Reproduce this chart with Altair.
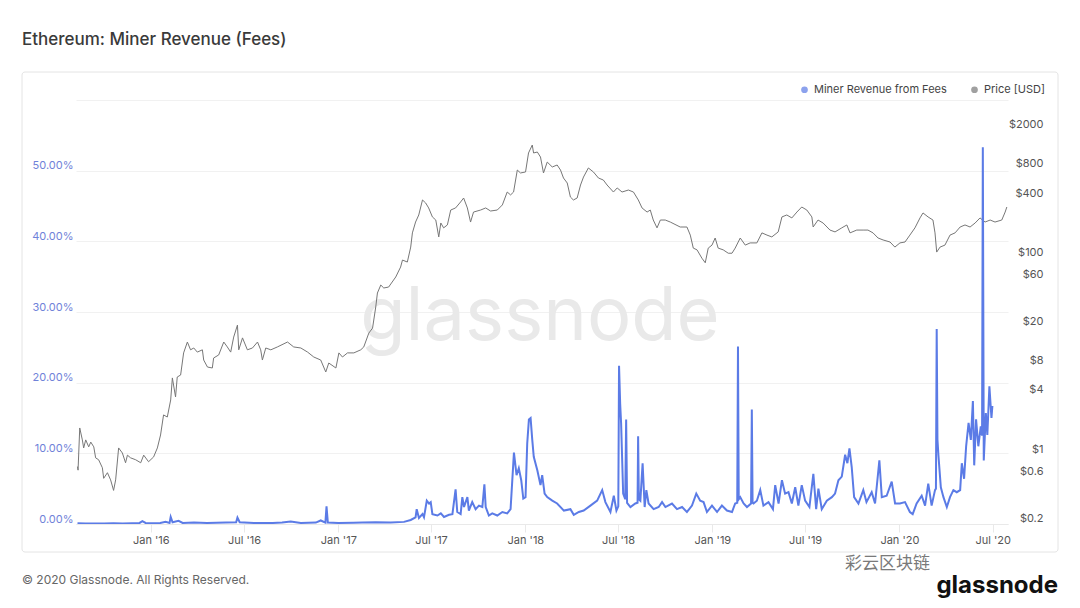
import altair as alt
import pandas as pd

# ---------------- data ----------------
# dates are given as decimal years
price_years = [
    2015.608, 2015.611, 2015.620, 2015.634, 2015.641, 2015.652, 2015.668, 2015.679, 2015.695, 2015.705,
    2015.721, 2015.741, 2015.748, 2015.768, 2015.785, 2015.801, 2015.812, 2015.828, 2015.848, 2015.865,
    2015.875, 2015.892, 2015.919, 2015.946, 2015.962, 2015.988,
    2016.015, 2016.035, 2016.052, 2016.068, 2016.088, 2016.106, 2016.115, 2016.132, 2016.141, 2016.159,
    2016.175, 2016.195, 2016.212, 2016.229, 2016.248, 2016.275, 2016.282, 2016.302, 2016.328, 2016.335,
    2016.362, 2016.389, 2016.408, 2016.426, 2016.442, 2016.462, 2016.469, 2016.489, 2016.515, 2016.542,
    2016.569, 2016.586, 2016.595, 2016.613, 2016.640, 2016.675, 2016.729, 2016.762, 2016.800, 2016.836,
    2016.869, 2016.906, 2016.933, 2016.949, 2016.987,
    2017.003, 2017.022, 2017.049, 2017.083, 2017.120, 2017.136, 2017.163, 2017.183, 2017.200, 2017.209,
    2017.227, 2017.243, 2017.269, 2017.307, 2017.333, 2017.343, 2017.369, 2017.387, 2017.396, 2017.413,
    2017.430, 2017.450, 2017.467, 2017.483, 2017.503, 2017.521, 2017.537, 2017.548, 2017.563, 2017.583,
    2017.601, 2017.627, 2017.654, 2017.670, 2017.690, 2017.707, 2017.723, 2017.761, 2017.788, 2017.814,
    2017.850, 2017.877, 2017.903, 2017.921, 2017.937, 2017.957, 2017.974,
    2018.001, 2018.017, 2018.037, 2018.044, 2018.064, 2018.081, 2018.097, 2018.117, 2018.144, 2018.170,
    2018.188, 2018.204, 2018.224, 2018.241, 2018.257, 2018.277, 2018.295, 2018.311, 2018.337, 2018.364,
    2018.391, 2018.417, 2018.437, 2018.471, 2018.491, 2018.517, 2018.551, 2018.578, 2018.604, 2018.624,
    2018.651, 2018.668, 2018.684, 2018.704, 2018.722, 2018.748, 2018.775, 2018.828, 2018.864, 2018.882,
    2018.898, 2018.918, 2018.944, 2018.962, 2018.978, 2018.998,
    2019.015, 2019.031, 2019.058, 2019.085, 2019.105, 2019.122, 2019.149, 2019.176, 2019.202, 2019.238,
    2019.265, 2019.292, 2019.318, 2019.352, 2019.372, 2019.398, 2019.425, 2019.452, 2019.478, 2019.505,
    2019.532, 2019.539, 2019.565, 2019.592, 2019.629, 2019.656, 2019.692, 2019.719, 2019.736, 2019.772,
    2019.806, 2019.832, 2019.859, 2019.886, 2019.913, 2019.950, 2019.976,
    2020.003, 2020.030, 2020.056, 2020.083, 2020.110, 2020.126, 2020.153, 2020.179, 2020.190, 2020.199,
    2020.217, 2020.243, 2020.270, 2020.297, 2020.324, 2020.350, 2020.377, 2020.404, 2020.430, 2020.457,
    2020.484, 2020.510, 2020.546, 2020.564, 2020.573,
]
price_usd = [
    0.75, 0.69, 1.85, 1.40, 1.16, 1.40, 1.19, 1.33, 1.19, 0.92,
    0.88, 0.73, 0.57, 0.65, 0.55, 0.43, 0.55, 1.16, 1.03, 0.82,
    0.98, 0.92, 0.88, 0.82, 0.98, 0.84,
    0.94, 1.16, 1.57, 2.51, 2.39, 3.56, 5.96, 3.82, 6.09, 6.38,
    10.7, 13.8, 11.5, 12.0, 10.9, 11.5, 9.06, 7.69, 7.52, 9.50,
    10.2, 13.8, 12.3, 10.9, 15.5, 20.5, 11.5, 15.2, 11.5, 12.0,
    13.8, 11.5, 9.06, 12.0, 11.5, 12.3, 13.8, 12.3, 12.0, 10.9,
    9.72, 9.06, 6.85, 8.45, 7.52,
    10.7, 9.72, 10.7, 10.7, 11.5, 12.3, 17.0, 19.1, 31.3, 43.4,
    52.3, 48.8, 49.9, 63.1, 79.6, 93.8, 89.5, 127, 177, 228,
    269, 382, 356, 317, 257, 239, 161, 223, 199, 213,
    302, 317, 365, 400, 317, 228, 288, 302, 317, 295,
    302, 340, 460, 430, 460, 769, 718,
    735, 1146, 1380, 1146, 1172, 1043, 718, 927, 826, 865,
    769, 638, 568, 409, 382, 400, 542, 653, 807, 735,
    638, 609, 542, 460, 506, 460, 482, 460, 382, 317,
    288, 302, 239, 199, 239, 239, 228, 203, 203, 168,
    124, 119, 98, 88, 124, 133,
    157, 124, 119, 110, 110, 124, 157, 133, 140, 140,
    177, 168, 161, 181, 257, 269, 251, 288, 324, 302,
    257, 203, 239, 223, 189, 181, 199, 213, 177, 189,
    189, 189, 177, 157, 150, 143, 127,
    140, 143, 168, 199, 251, 282, 257, 239, 177, 113,
    127, 133, 168, 177, 203, 213, 203, 223, 251, 228,
    239, 228, 239, 288, 324,
]

fee_years = [
    2015.608, 2015.650, 2015.700, 2015.750, 2015.800, 2015.850, 2015.900, 2015.940, 2015.955, 2015.972,
    2016.000, 2016.050, 2016.079, 2016.100, 2016.106, 2016.116, 2016.148, 2016.170, 2016.230, 2016.300,
    2016.400, 2016.455, 2016.462, 2016.474, 2016.550, 2016.650, 2016.700, 2016.746, 2016.800, 2016.880,
    2016.906, 2016.931, 2016.937, 2016.944,
    2017.000, 2017.080, 2017.129, 2017.200, 2017.280, 2017.351, 2017.387, 2017.413, 2017.419, 2017.431,
    2017.450, 2017.458, 2017.473, 2017.485, 2017.494, 2017.503, 2017.530, 2017.548, 2017.565, 2017.592,
    2017.610, 2017.627, 2017.636, 2017.654, 2017.663, 2017.672, 2017.690, 2017.698, 2017.716, 2017.734,
    2017.752, 2017.770, 2017.781, 2017.788, 2017.805, 2017.823, 2017.850, 2017.877, 2017.903, 2017.921,
    2017.939, 2017.953, 2017.965, 2017.978, 2017.989,
    2018.001, 2018.010, 2018.019, 2018.028, 2018.037, 2018.045, 2018.064, 2018.081, 2018.090, 2018.103,
    2018.117, 2018.144, 2018.170, 2018.206, 2018.241, 2018.259, 2018.286, 2018.312, 2018.348, 2018.384,
    2018.411, 2018.428, 2018.455, 2018.473, 2018.487, 2018.497, 2018.501, 2018.507, 2018.512, 2018.523,
    2018.534, 2018.539, 2018.544, 2018.562, 2018.588, 2018.600, 2018.603, 2018.607, 2018.615, 2018.627,
    2018.638, 2018.647, 2018.659, 2018.686, 2018.713, 2018.731, 2018.749, 2018.784, 2018.811, 2018.838,
    2018.864, 2018.891, 2018.914, 2018.935, 2018.953, 2018.971, 2018.998,
    2019.025, 2019.051, 2019.078, 2019.105, 2019.122, 2019.133, 2019.137, 2019.141, 2019.149, 2019.167,
    2019.185, 2019.207, 2019.211, 2019.215, 2019.220, 2019.238, 2019.256, 2019.273, 2019.300, 2019.324,
    2019.336, 2019.354, 2019.372, 2019.389, 2019.407, 2019.425, 2019.443, 2019.460, 2019.478, 2019.496,
    2019.519, 2019.540, 2019.555, 2019.567, 2019.585, 2019.612, 2019.639, 2019.656, 2019.674, 2019.692,
    2019.710, 2019.722, 2019.733, 2019.745, 2019.758, 2019.781, 2019.807, 2019.824, 2019.852, 2019.870,
    2019.893, 2019.906, 2019.932, 2019.959, 2019.977,
    2020.003, 2020.030, 2020.056, 2020.071, 2020.092, 2020.119, 2020.137, 2020.154, 2020.172, 2020.190,
    2020.195, 2020.199, 2020.203, 2020.208, 2020.221, 2020.235, 2020.253, 2020.270, 2020.288, 2020.306,
    2020.324, 2020.333, 2020.345, 2020.356, 2020.369, 2020.381, 2020.392, 2020.399, 2020.409, 2020.421,
    2020.434, 2020.441, 2020.445, 2020.450, 2020.461, 2020.469, 2020.480, 2020.491, 2020.496,
]
fee_pct = [
    0.10, 0.06, 0.08, 0.07, 0.10, 0.08, 0.12, 0.15, 0.40, 0.15,
    0.12, 0.15, 0.30, 0.15, 1.00, 0.25, 0.45, 0.15, 0.20, 0.15,
    0.20, 0.25, 0.90, 0.25, 0.15, 0.15, 0.20, 0.35, 0.15, 0.20,
    0.50, 0.20, 2.50, 0.20,
    0.15, 0.18, 0.20, 0.25, 0.20, 0.30, 0.57, 0.95, 2.10, 0.86,
    1.40, 0.95, 3.30, 2.90, 3.10, 1.40, 1.20, 1.50, 1.00, 1.30,
    1.40, 4.90, 1.70, 1.40, 3.80, 2.40, 3.80, 1.90, 3.10, 2.10,
    2.60, 2.40, 5.60, 2.40, 1.20, 1.50, 1.20, 1.70, 1.50, 2.10,
    10.1, 6.9, 7.9, 6.2, 3.6,
    3.8, 11.4, 14.8, 15.0, 11.9, 9.5, 7.6, 5.5, 6.9, 4.3,
    3.8, 3.3, 2.9, 1.9, 2.1, 1.3, 1.7, 1.9, 2.6, 3.3,
    4.8, 3.1, 1.7, 4.0, 1.9, 2.5, 22.4, 17.0, 14.3, 4.3,
    3.5, 14.8, 3.0, 2.4, 2.9, 3.0, 12.4, 3.5, 3.3, 8.6,
    2.4, 4.8, 2.9, 2.1, 2.4, 3.1, 2.4, 2.9, 2.1, 2.4,
    1.7, 2.6, 4.3, 3.3, 3.1, 1.7, 2.6,
    1.7, 2.6, 1.9, 1.7, 2.9, 3.0, 25.1, 3.5, 3.8, 2.9,
    2.4, 2.9, 16.2, 3.0, 2.9, 3.3, 4.8, 2.6, 3.1, 2.1,
    5.5, 2.9, 6.2, 4.3, 4.5, 2.9, 5.2, 2.6, 5.5, 3.3,
    2.4, 7.1, 2.1, 5.0, 2.1, 3.3, 3.8, 4.3, 6.2, 6.7,
    9.8, 8.6, 10.7, 8.1, 3.8, 2.9, 4.8, 3.1, 4.5, 2.9,
    9.0, 3.8, 4.0, 6.0, 2.9,
    2.9, 3.1, 1.7, 1.4, 2.9, 4.0, 2.6, 5.7, 2.6, 4.8,
    5.0, 27.6, 12.0, 9.8, 5.2, 3.8, 2.4, 3.8, 4.8, 4.5,
    4.8, 8.6, 6.4, 11.0, 14.3, 11.9, 17.4, 8.3, 14.8, 11.0,
    13.8, 12.5, 53.3, 9.0, 15.7, 12.6, 19.5, 15.0, 16.7,
]

series_names = ["Miner Revenue from Fees", "Price [USD]"]
pct_ticks = [0, 10, 20, 30, 40, 50, 60]
price_ticks = [0.2, 0.6, 1, 4, 8, 20, 60, 100, 400, 800, 2000]
title_text = "Ethereum: Miner Revenue (Fees)"
footer_text = "© 2020 Glassnode. All Rights Reserved."
watermark_text = "glassnode"
wechat_text = "彩云区块链"

assert len(price_years) == len(price_usd), (len(price_years), len(price_usd))
assert len(fee_years) == len(fee_pct), (len(fee_years), len(fee_pct))


def year_to_date(y):
    yr = int(y)
    start = pd.Timestamp(year=yr, month=1, day=1)
    span = (pd.Timestamp(year=yr + 1, month=1, day=1) - start).total_seconds()
    return start + pd.Timedelta(seconds=round((y - yr) * span))


price_df = pd.DataFrame({"date": [year_to_date(y) for y in price_years], "price": price_usd})
fee_df = pd.DataFrame({"date": [year_to_date(y) for y in fee_years], "fee": fee_pct})

# ---------------- styling ----------------
FONT = "Inter"
BLUE = "#5b7be6"
GREY = "#777777"
W, H = 932, 424

x_tick_values = [alt.DateTime(year=yr, month=m, date=1) for yr in range(2016, 2021) for m in (1, 7)]

x_enc = alt.X(
    "date:T",
    scale=alt.Scale(domain=[alt.DateTime(year=2015, month=8, date=8), alt.DateTime(year=2020, month=7, date=31)]),
    axis=alt.Axis(
        values=x_tick_values, format="%b '%y", title=None, grid=False,
        labelFontSize=11, labelColor="#555555", labelFont=FONT,
        tickSize=8, tickColor="#e9e9e9", domainColor="#e9e9e9", labelPadding=2,
    ),
)

fee_line = alt.Chart(fee_df).mark_line(color=BLUE, strokeWidth=2, clip=True).encode(
    x=x_enc,
    y=alt.Y(
        "fee:Q",
        scale=alt.Scale(domain=[0, 60], nice=False),
        axis=alt.Axis(
            orient="left", values=pct_ticks, title=None,
            labelExpr="datum.value >= 60 ? '' : format(datum.value, '.2f') + '%'",
            grid=True, gridColor="#f1f1f1", domain=False, ticks=False,
            labelColor="#6f82d9", labelFontSize=11, labelFont=FONT,
            labelBaseline="bottom", labelPadding=3,
        ),
    ),
)

price_line = alt.Chart(price_df).mark_line(color=GREY, strokeWidth=1, clip=True).encode(
    x=x_enc,
    y=alt.Y(
        "price:Q",
        scale=alt.Scale(type="log", domain=[0.196, 3954], nice=False),
        axis=alt.Axis(
            orient="right", values=price_ticks, title=None,
            labelExpr="'$' + datum.value", grid=False, domain=False, ticks=False,
            labelAlign="right", labelPadding=35, labelBaseline="bottom",
            labelColor="#555555", labelFontSize=11, labelFont=FONT,
        ),
    ),
)

legend_df = pd.DataFrame({"series": series_names})
legend_layer = alt.Chart(legend_df).mark_circle(clip=True).encode(
    x=alt.value(0),
    y=alt.value(-3000),
    color=alt.Color(
        "series:N",
        scale=alt.Scale(domain=series_names, range=[BLUE, GREY]),
        legend=alt.Legend(
            orient="none", legendX=723, legendY=-16, direction="horizontal", title=None,
            symbolType="circle", symbolSize=45, symbolStrokeWidth=0,
            labelFontSize=11, labelColor="#444444", labelFont=FONT,
            columnPadding=22, labelOffset=4, padding=0,
        ),
    ),
)

one = pd.DataFrame({"k": [0]})

border = alt.Chart(one).mark_rect(filled=False, stroke="#e4e4e4", strokeWidth=1, cornerRadius=3).encode(
    x=alt.value(-54), x2=alt.value(982), y=alt.value(-28), y2=alt.value(452)
)


def label(text, x, y, **kw):
    df = pd.DataFrame({"t": [text]})
    return alt.Chart(df).mark_text(**kw).encode(text="t:N", x=alt.value(x), y=alt.value(y))


title = label(title_text, -54, -60, align="left", baseline="middle", fontSize=17,
              font=FONT, fontWeight=500, color="#3a3a3a")
footer = label(footer_text, -54, 480, align="left", baseline="middle", fontSize=12,
               font=FONT, color="#666666")
watermark = label(watermark_text, 464, 240, align="center", baseline="alphabetic", fontSize=74,
                  font=FONT, color="#e9e9e9")
wechat = label(wechat_text, 854, 464, align="right", baseline="middle", fontSize=17,
               font="Noto Sans CJK SC", color="#7a7a7a")
logo = label(watermark_text, 982, 493, align="right", baseline="alphabetic", fontSize=24,
             font=FONT, fontWeight="bold", color="#111111")

chart = (
    alt.layer(border, watermark, price_line, fee_line, legend_layer, title, footer, wechat, logo)
    .resolve_scale(y="independent")
    .properties(
        width=W, height=H,
        autosize=alt.AutoSizeParams(type="none"),
        padding={"left": 68, "top": 92, "right": 64, "bottom": 76},
        background="white",
    )
    .configure_view(stroke=None)
)

chart.save("out.html", embed_options={"renderer": "svg", "actions": False})
